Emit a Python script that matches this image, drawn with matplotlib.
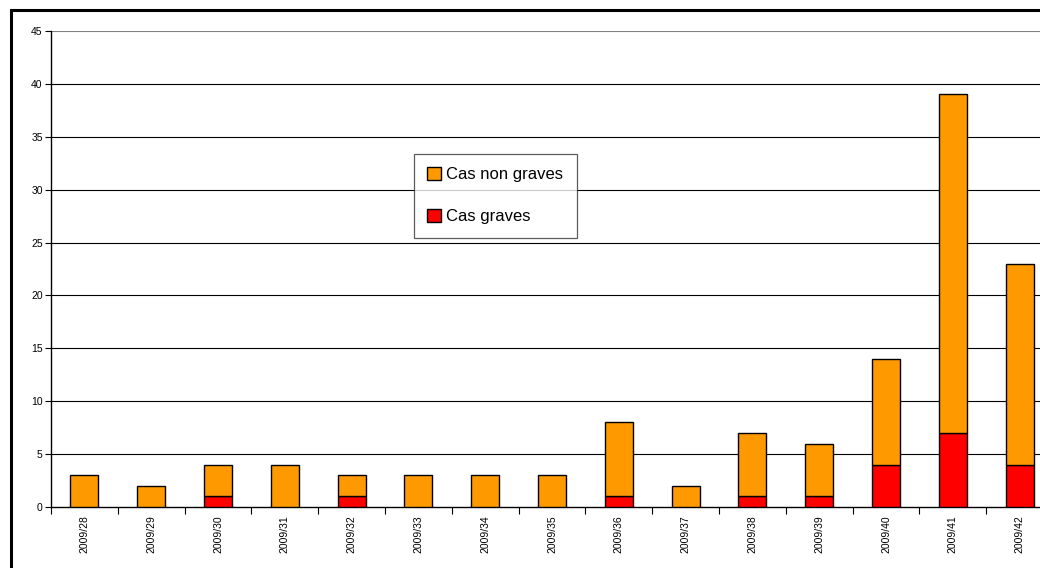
import matplotlib
matplotlib.use("Agg")
import matplotlib.pyplot as plt
from matplotlib.patches import Rectangle, Patch
import numpy as np

plt.rcParams['font.family'] = ['Liberation Sans', 'DejaVu Sans']

weeks = ["2009/28", "2009/29", "2009/30", "2009/31", "2009/32", "2009/33", "2009/34",
         "2009/35", "2009/36", "2009/37", "2009/38", "2009/39", "2009/40", "2009/41", "2009/42"]
cas_graves = [0, 0, 1, 0, 1, 0, 0, 0, 1, 0, 1, 1, 4, 7, 4]
cas_non_graves = [3, 2, 3, 4, 2, 3, 3, 3, 7, 2, 6, 5, 10, 32, 19]

ORANGE = "#FF9900"
RED = "#FF0000"

fig = plt.figure(figsize=(10.4, 5.68), dpi=100)
ax = fig.add_axes([51/1040, 1-507/568, 1002/1040, 476/568])

x = np.arange(len(weeks))
w = 0.42
ax.bar(x, cas_graves, w, color=RED, edgecolor="black", linewidth=1.0, zorder=3)
ax.bar(x, cas_non_graves, w, bottom=cas_graves, color=ORANGE, edgecolor="black", linewidth=1.0, zorder=3)

ax.set_xlim(-0.5, len(weeks) - 0.5)
ax.set_ylim(0, 45)
ax.set_yticks(np.arange(0, 46, 5))
ax.tick_params(axis='y', labelsize=7.5, length=4, width=0.8, direction='out', pad=2)
ax.set_xticks(x)
ax.set_xticklabels(weeks, rotation=90, fontsize=7.5)
ax.tick_params(axis='x', length=0, pad=6)
ax.set_xticks(np.arange(-0.5, len(weeks), 1), minor=True)
ax.tick_params(axis='x', which='minor', length=5, width=0.8, direction='out')

for yv in range(5, 46, 5):
    ax.axhline(yv, color="black" if yv < 45 else "#808080", linewidth=0.8, zorder=1)

for s in ['top', 'right']:
    ax.spines[s].set_visible(False)
ax.spines['left'].set_linewidth(1.0)
ax.spines['bottom'].set_linewidth(1.0)

handles = [Patch(facecolor=ORANGE, edgecolor="black", label="Cas non graves"),
           Patch(facecolor=RED, edgecolor="black", label="Cas graves")]
leg = ax.legend(handles=handles, loc='upper left',
                bbox_to_anchor=((414-51)/1002, (507-154)/476),
                fontsize=12, frameon=True, fancybox=False, edgecolor="#333333",
                handlelength=0.8, handleheight=0.8, handletextpad=0.35,
                labelspacing=1.6, borderpad=0.8, borderaxespad=0)
leg.get_frame().set_linewidth(0.9)
leg.set_zorder(5)

fig.patches.append(Rectangle((10.5/1040, -0.1), 1.2, 1 - 10.5/568 + 0.1,
                             transform=fig.transFigure, fill=False,
                             edgecolor="black", linewidth=2.2))

fig.savefig("out.png", dpi=100)
